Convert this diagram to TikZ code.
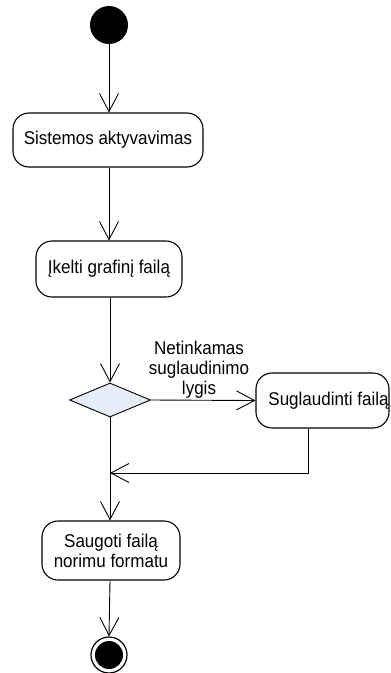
\documentclass[tikz,border=0pt]{standalone}
\usepackage{fontspec}
\setmainfont{Liberation Sans}[FakeStretch=0.92]
\usetikzlibrary{arrows.meta,shapes.geometric}
\definecolor{decisionfill}{RGB}{230,236,248}
\tikzset{
  action/.style={draw=black, line width=1.1pt, rounded corners=16pt, align=center, inner sep=0pt},
  flow/.style={draw=black, line width=0.9pt, -{Straight Barb[length=18pt,width=19pt]}},
  plain/.style={draw=black, line width=0.9pt},
}
\begin{document}
\begin{tikzpicture}[x=1pt, y=-1pt, font=\fontsize{18.5pt}{20pt}\selectfont]
\useasboundingbox (0,0) rectangle (391,673);

% initial and final states
\node[circle, fill=black, minimum size=38pt, inner sep=0pt] (start) at (109,25) {};
\node[circle, draw=black, line width=1.2pt, minimum size=36pt, inner sep=0pt] (end) at (109,655) {};
\fill[black] (end.center) circle[radius=14pt];

% actions
\node[action, minimum width=190pt, minimum height=54pt] (activate) at (108,140) {Sistemos aktyvavimas};
\node[action, minimum width=146pt, minimum height=56pt] (load) at (109,269) {Įkelti grafinį failą};
\node[action, minimum width=133pt, minimum height=55pt,
      label={[xshift=6pt]center:Suglaudinti failą}] (compress) at (322.5,400.5) {};
\node[action, minimum width=138pt, minimum height=59pt] (save) at (111,550.5) {Saugoti failą\\norimu formatu};

% decision
\node[diamond, draw=black, line width=0.9pt, fill=decisionfill, inner sep=0pt,
      minimum width=81pt, minimum height=34pt, aspect=2.4] (choice) at (110,400) {};

% guard text
\node[align=center, inner sep=0pt] (guard) at (199,370) {Netinkamas\\suglaudinimo\\lygis};

% flows
\coordinate (merge) at (110,473);
\coordinate (bend) at (308,473);
\draw[flow] (start.south -| 109,0) -- (activate.north -| 109,0);
\draw[flow] (activate.south -| 109,0) -- (load.north -| 109,0);
\draw[flow] (load.south -| 110,0) -- (choice.north);
\draw[flow] (choice.east) -- (compress.west);
\draw[plain] (choice.south) -- (merge);
\draw[flow] (merge) -- (save.north -| merge);
\draw[flow] (bend |- compress.south) -- (bend) -- (merge);
\draw[flow] (save.south -| 110,0) -- (end.north);
\end{tikzpicture}
\end{document}
